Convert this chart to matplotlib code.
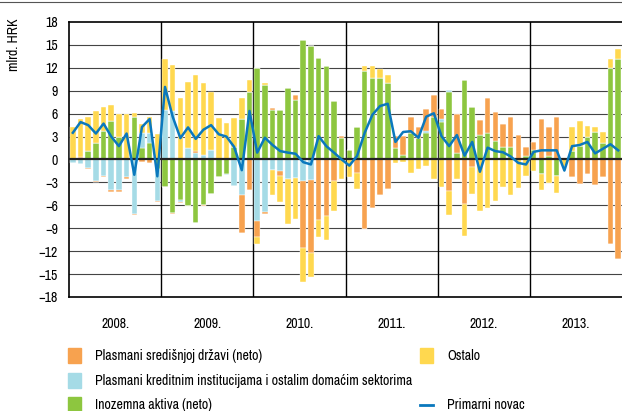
import numpy as np
import matplotlib
matplotlib.use("Agg")
import matplotlib.pyplot as plt
from matplotlib.patches import Rectangle
from matplotlib.lines import Line2D
from matplotlib import font_manager

# prefer a narrow sans, as in the original
names = sorted({f.name for f in font_manager.fontManager.ttflist})
narrow = [nm for nm in names if 'narrow' in nm.lower() or 'condensed' in nm.lower()]
plt.rcParams['font.family'] = narrow[:1] + ['DejaVu Sans']
plt.rcParams['font.stretch'] = 'condensed'

# monthly data, 2008-2013 (mlrd. HRK)
years = ['2008.', '2009.', '2010.', '2011.', '2012.', '2013.']

inozemna = [0, 0, 1.1, 2.1, 3.7, 5.0, 3.0, 0, 5.6, 1.5, 2.2, -1.3,
            -3.6, -7.0, -5.3, -6.1, -8.3, -5.9, -4.5, -2.3, -1.85, 1.7, 5.25, 8.9,
            12.0, 9.75, 6.5, 6.45, 9.4, 7.8, 15.65, 14.9, 13.3, 12.2, 7.6, 2.85,
            1.3, 4.3, 11.55, 10.7, 10.65, 10.0, 1.5, 0.6, 3.5, 2.8, 3.5, 5.55,
            4.95, 8.8, 0.8, 10.4, 6.9, 3.2, 3.5, 2.4, 1.7, 1.7, 0, 0.4,
            1.3, -1.9, 0.4, -2.1, 0, 1.1, 1.75, 3.0, 3.6, 2.2, 12.0, 13.1]

kreditne = [-0.5, -0.65, -1.1, -2.85, -2.15, -4.0, -4.0, -2.35, -7.15, 2.0, 1.3, -4.1,
            6.5, 6.3, -0.2, 1.5, 0.9, 0.65, 1.3, 0, -0.2, -3.5, -4.7, 0,
            -8.0, -6.9, -1.4, -1.5, -2.5, -2.4, -2.75, -2.7, 0, 0, 0, 0,
            0, 0, 0, 0, 0, 0, 0, 0, 0, 0, 0.2, 0,
            0.3, 0.3, 0, 0, 0, 0, 0, 0, 0, 0, 0, 0,
            0, 0, 0, 0, 0, 0, 0, 0, 0, 0, 0, 0]

drzava = [0, 0.35, -0.1, -0.15, -0.15, -0.3, -0.3, -0.15, -0.15, -0.3, -0.4, -0.2,
          0, -0.2, -0.15, 0, 0.2, -0.15, 0, 0, 0, 0, -4.9, -3.95,
          -2.1, -0.2, 0.2, -0.6, 0, 0.7, -8.9, -9.6, -7.9, -7.45, -2.85, 0.2,
          0, -1.75, -9.1, -6.35, -4.7, -3.8, 1.55, 2.5, 2.1, 1.4, 2.85, 2.9,
          1.3, -4.1, 5.1, -5.85, -1.0, 2.0, 4.5, 3.8, 2.95, 3.85, 3.25, 1.2,
          1.0, 5.25, 3.85, 5.6, 0.25, -2.3, -3.2, -1.9, -3.4, -2.3, -11.1, -13.0]

ostalo = [4.2, 5.0, 4.5, 4.2, 3.2, 2.1, 3.0, 6.0, 0.5, 1.2, 2.1, 3.3,
          6.6, 6.1, 8.1, 8.7, 10.0, 9.35, 7.6, 5.4, 4.8, 3.7, 2.85, 1.5,
          -1.0, 0.25, -3.2, -3.5, -5.9, -5.4, -4.4, -3.1, -2.3, -3.1, -3.85, -2.6,
          -2.3, -2.05, 0.65, 1.5, 1.2, 1.1, -0.45, -0.3, -1.75, -1.2, -0.8, -2.5,
          -3.6, -3.15, -2.6, -4.15, -3.5, -6.7, -6.3, -5.4, -3.6, -4.7, -3.7, -2.1,
          -1.45, -2.1, -3.05, -2.3, -0.8, 3.1, 3.3, 1.4, 0.7, 1.4, 1.2, 1.3]

primarni = [3.5, 4.9, 4.5, 3.4, 4.7, 3.0, 1.75, 3.4, -2.0, 4.25, 5.3, -2.2,
            9.5, 5.6, 2.8, 4.2, 2.7, 3.9, 4.5, 3.3, 3.0, 1.65, -1.4, 6.35,
            0.9, 2.85, 1.9, 1.1, 0.9, 0.75, -0.35, -0.65, 3.05, 1.75, 0.9, 0.0,
            -0.8, 0.45, 3.5, 5.85, 7.0, 7.3, 2.3, 3.6, 3.7, 2.85, 5.6, 6.05,
            3.05, 1.75, 3.2, 0.5, 2.3, -1.6, 1.55, 1.1, 0.95, 0.4, -0.45, -0.65,
            1.0, 1.2, 1.2, 1.2, -1.45, 1.75, 1.9, 2.3, 0.8, 1.4, 2.0, 1.2]

series = [
    ('Inozemna aktiva (neto)', inozemna, '#8DC63F'),
    ('Plasmani kreditnim institucijama i ostalim domaćim sektorima', kreditne, '#A5DBE6'),
    ('Plasmani središnjoj državi (neto)', drzava, '#F7A24F'),
    ('Ostalo', ostalo, '#FFD84F'),
]
line_color = '#0a78bd'

fig = plt.figure(figsize=(6.22, 4.11), dpi=100)
ax = fig.add_axes([69 / 622, 1 - 297 / 411, 553 / 622, 275 / 411])

n = len(primarni)
x = np.arange(n)
pos_base = np.zeros(n)
neg_base = np.zeros(n)
for name, vals, col in series:
    v = np.array(vals, dtype=float)
    p = np.where(v > 0, v, 0)
    m = np.where(v < 0, v, 0)
    ax.bar(x, p, 0.72, bottom=pos_base, color=col, edgecolor='white', linewidth=0.3, zorder=3)
    ax.bar(x, m, 0.72, bottom=neg_base, color=col, edgecolor='white', linewidth=0.3, zorder=3)
    pos_base += p
    neg_base += m

ax.plot(x, primarni, color=line_color, lw=1.8, zorder=5)

ax.set_xlim(-0.5, n - 0.5)
ax.set_ylim(-18, 18)
ax.set_yticks(np.arange(-18, 19, 3))
for yv in np.arange(-15, 18, 3):
    if yv == 0:
        continue
    ax.axhline(yv, color='#444444', lw=0.8, zorder=1)
ax.axhline(0, color='#222222', lw=1.6, zorder=4)
for k in range(1, len(years)):
    ax.axvline(12 * k - 0.5, color='black', lw=1.0, zorder=1)

ax.set_xticks([])
ax.tick_params(axis='y', length=0, pad=8, labelsize=10)
ax.spines['right'].set_visible(False)
for s in ['left', 'top', 'bottom']:
    ax.spines[s].set_linewidth(1.2)

for i, yr in enumerate(years):
    ax.text(12 * i + 5.5, -20.6, yr, ha='center', va='top', fontsize=10)

fig.text(14 / 622, 1 - 18 / 411, 'mlrd. HRK', rotation=90, ha='center', va='top', fontsize=10)
fig.add_artist(Line2D([0, 1], [1 - 2 / 411, 1 - 2 / 411], color='#555555', lw=0.8))

# legend
def patch(px, py, col):
    fig.add_artist(Rectangle((px / 622, 1 - (py + 7) / 411), 13 / 622, 15 / 411, color=col,
                             transform=fig.transFigure))

def label(px, py, txt):
    fig.text(px / 622, 1 - py / 411, txt, ha='left', va='center', fontsize=10)

patch(68, 356, series[2][2]); label(95, 356, series[2][0])
patch(68, 381, series[1][2]); label(95, 381, series[1][0])
patch(68, 405, series[0][2]); label(95, 405, series[0][0])
patch(420, 356, series[3][2]); label(447, 356, series[3][0])
fig.add_artist(Line2D([420 / 622, 433 / 622], [1 - 405 / 411, 1 - 405 / 411], color=line_color, lw=2))
label(447, 405, 'Primarni novac')

fig.savefig('out.png', dpi=100)
